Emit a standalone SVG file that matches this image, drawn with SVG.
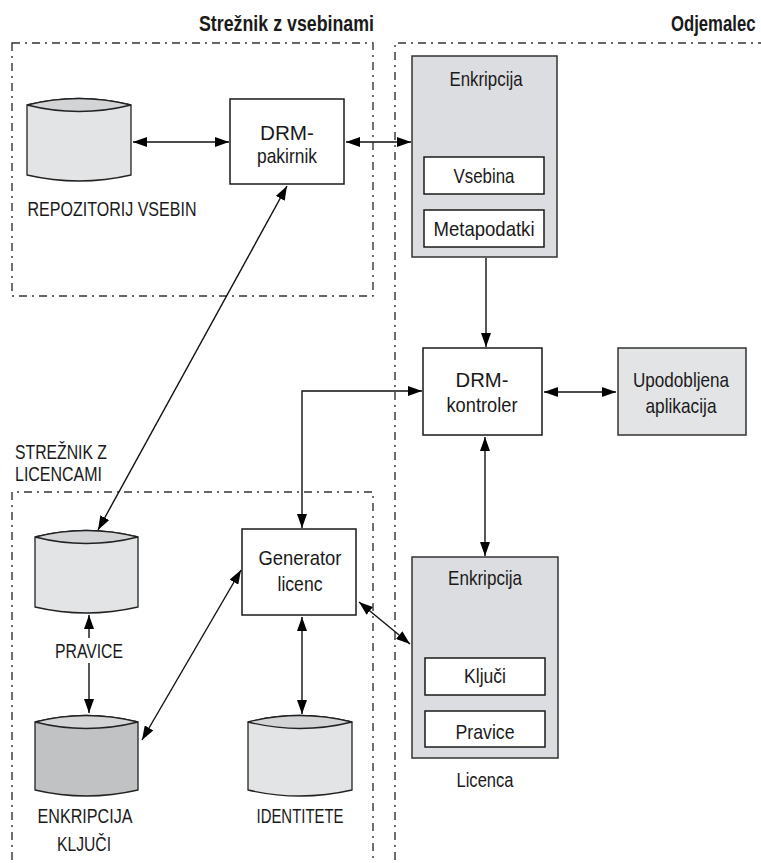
<svg xmlns="http://www.w3.org/2000/svg" width="761" height="863" viewBox="0 0 761 863">
<defs>
<style>
.t{font-family:"Liberation Sans",Arial,sans-serif;font-size:21px;fill:#1a1a1a;text-anchor:middle}
.tl{text-anchor:start}
.b{font-weight:bold;font-size:22px}
.box{fill:#fff;stroke:#1a1a1a;stroke-width:1.5}
.gbox{fill:#dcdde0;stroke:#333;stroke-width:1.5}
.cyl{fill:#e3e4e6;stroke:#222;stroke-width:1.3}
.cyld{fill:#c1c2c4;stroke:#222;stroke-width:1.3}
.lens{fill:#d3d4d6;stroke:#222;stroke-width:1.3}
.zone{fill:none;stroke:#333;stroke-width:1.4;stroke-dasharray:8 5 2 5}
.c{fill:none;stroke:#111;stroke-width:1.4}
</style>
<marker id="ah" viewBox="0 0 14 10" markerWidth="14" markerHeight="10" refX="14" refY="5" orient="auto-start-reverse" markerUnits="userSpaceOnUse">
<path d="M0,0 L14,5 L0,10 z" fill="#000"/>
</marker>
</defs>
<rect width="761" height="863" fill="#fff"/>

<g id="zones">
<rect class="zone" x="12" y="43" width="361" height="253"/>
<path class="zone" d="M395,880 V43 H780"/>
<path class="zone" d="M12,880 V492 H373 V880"/>
<text class="t b" x="374" y="31" style="text-anchor:end" textLength="175" lengthAdjust="spacingAndGlyphs">Strežnik z vsebinami</text>
<text class="t tl b" transform="translate(671,31) scale(0.76,1)">Odjemalec</text>
<text class="t tl" x="15" y="459" textLength="92" lengthAdjust="spacingAndGlyphs">STREŽNIK Z</text>
<text class="t tl" x="15" y="481" textLength="87" lengthAdjust="spacingAndGlyphs">LICENCAMI</text>
</g>

<g id="repozitorij">
<path class="cyl" d="M27,105 Q79,92 131,105 V175 Q79,187 27,175 Z"/>
<path class="lens" d="M27,105 Q79,92 131,105 Q79,118 27,105 Z"/>
<text class="t" x="112" y="216" textLength="169" lengthAdjust="spacingAndGlyphs">REPOZITORIJ VSEBIN</text>
</g>

<g id="drm-pakirnik">
<rect class="box" x="230" y="99" width="114" height="85"/>
<text class="t" x="287" y="140" textLength="54" lengthAdjust="spacingAndGlyphs">DRM-</text>
<text class="t" x="287" y="163" textLength="60" lengthAdjust="spacingAndGlyphs">pakirnik</text>
</g>

<g id="enkripcija-vsebina">
<rect class="gbox" x="412" y="56" width="145" height="201"/>
<text class="t" x="486" y="86" textLength="73" lengthAdjust="spacingAndGlyphs">Enkripcija</text>
<rect class="box" x="424" y="157" width="120" height="37"/>
<text class="t" x="484" y="183" textLength="61" lengthAdjust="spacingAndGlyphs">Vsebina</text>
<rect class="box" x="424" y="210" width="120" height="37"/>
<text class="t" x="484" y="236" textLength="101" lengthAdjust="spacingAndGlyphs">Metapodatki</text>
</g>

<g id="drm-kontroler">
<rect class="box" x="423" y="348" width="119" height="87"/>
<text class="t" x="482" y="387" textLength="53" lengthAdjust="spacingAndGlyphs">DRM-</text>
<text class="t" x="482" y="412" textLength="71" lengthAdjust="spacingAndGlyphs">kontroler</text>
</g>

<g id="upodobljena">
<rect class="gbox" x="618" y="348" width="128" height="87" style="fill:#e3e4e6"/>
<text class="t" x="681" y="387" textLength="96" lengthAdjust="spacingAndGlyphs">Upodobljena</text>
<text class="t" x="681" y="413" textLength="71" lengthAdjust="spacingAndGlyphs">aplikacija</text>
</g>

<g id="generator">
<rect class="box" x="242" y="529" width="114" height="86"/>
<text class="t" x="300" y="565" textLength="83" lengthAdjust="spacingAndGlyphs">Generator</text>
<text class="t" x="300" y="591" textLength="45" lengthAdjust="spacingAndGlyphs">licenc</text>
</g>

<g id="pravice-db">
<path class="cyl" d="M35,537 Q86,524 138,537 V607 Q86,619 35,607 Z"/>
<path class="lens" d="M35,537 Q86,524 138,537 Q86,550 35,537 Z"/>
<text class="t" x="89" y="658" textLength="68" lengthAdjust="spacingAndGlyphs">PRAVICE</text>
</g>

<g id="kljuci-db">
<path class="cyld" d="M35,722 Q86,709 138,722 V790 Q86,802 35,790 Z"/>
<path class="lens" d="M35,722 Q86,709 138,722 Q86,735 35,722 Z"/>
<text class="t" x="85" y="823" textLength="95" lengthAdjust="spacingAndGlyphs">ENKRIPCIJA</text>
<text class="t" x="84" y="851" textLength="54" lengthAdjust="spacingAndGlyphs">KLJUČI</text>
</g>

<g id="identitete-db">
<path class="cyl" d="M248,722 Q300,709 352,722 V790 Q300,802 248,790 Z"/>
<path class="lens" d="M248,722 Q300,709 352,722 Q300,735 248,722 Z"/>
<text class="t" x="300" y="823" textLength="87" lengthAdjust="spacingAndGlyphs">IDENTITETE</text>
</g>

<g id="licenca">
<rect class="gbox" x="412" y="557" width="146" height="201"/>
<text class="t" x="485" y="585" textLength="74" lengthAdjust="spacingAndGlyphs">Enkripcija</text>
<rect class="box" x="425" y="658" width="120" height="37"/>
<text class="t" x="485" y="683" textLength="42" lengthAdjust="spacingAndGlyphs">Ključi</text>
<rect class="box" x="425" y="711" width="120" height="36"/>
<text class="t" x="485" y="739" textLength="59" lengthAdjust="spacingAndGlyphs">Pravice</text>
<text class="t" x="485" y="787" textLength="57" lengthAdjust="spacingAndGlyphs">Licenca</text>
</g>

<g id="connectors">
<line class="c" x1="133" y1="142" x2="229" y2="142" marker-start="url(#ah)" marker-end="url(#ah)"/>
<line class="c" x1="346" y1="142" x2="411" y2="142" marker-start="url(#ah)" marker-end="url(#ah)"/>
<line class="c" x1="287" y1="186" x2="98" y2="530" marker-start="url(#ah)" marker-end="url(#ah)"/>
<line class="c" x1="486" y1="258" x2="486" y2="347" marker-end="url(#ah)"/>
<path class="c" d="M422,391 H302 V528" marker-start="url(#ah)" marker-end="url(#ah)"/>
<line class="c" x1="544" y1="392" x2="616" y2="392" marker-start="url(#ah)" marker-end="url(#ah)"/>
<line class="c" x1="485" y1="437" x2="485" y2="556" marker-start="url(#ah)" marker-end="url(#ah)"/>
<line class="c" x1="359" y1="602" x2="410" y2="644" marker-start="url(#ah)" marker-end="url(#ah)"/>
<line class="c" x1="89" y1="638" x2="89" y2="615" marker-end="url(#ah)"/>
<line class="c" x1="89" y1="663" x2="89" y2="713" marker-end="url(#ah)"/>
<line class="c" x1="142" y1="740" x2="241" y2="570" marker-start="url(#ah)" marker-end="url(#ah)"/>
<line class="c" x1="302" y1="617" x2="302" y2="714" marker-start="url(#ah)" marker-end="url(#ah)"/>
</g>
</svg>
